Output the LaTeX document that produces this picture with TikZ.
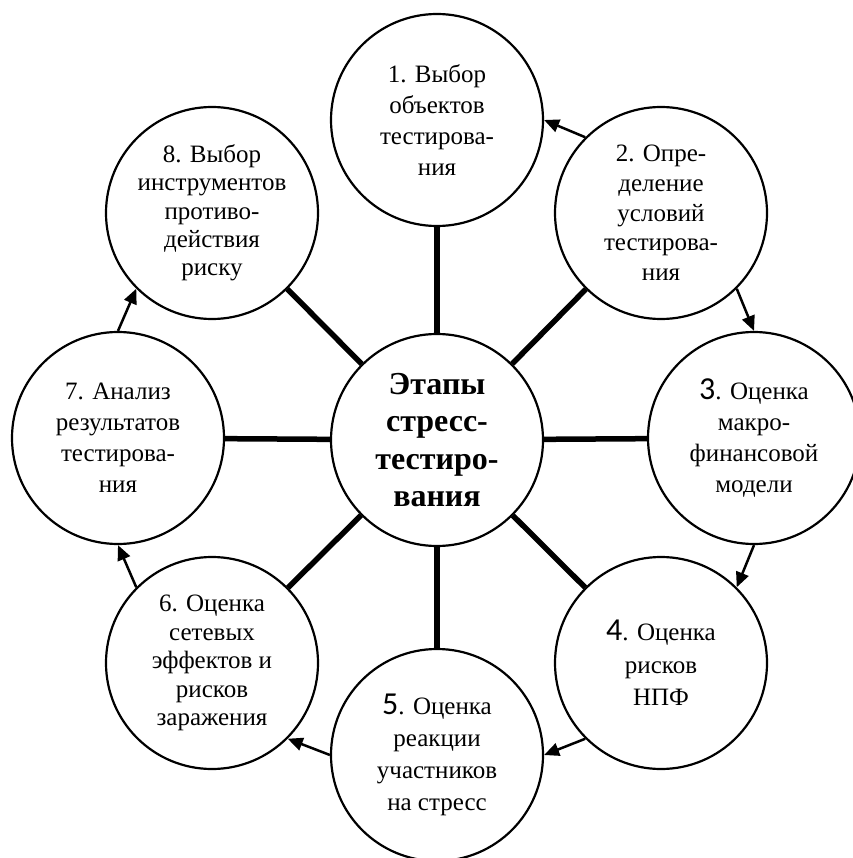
\documentclass[tikz,border=0pt]{standalone}
\usepackage{fontspec}
\setmainfont{Liberation Serif}
\newfontfamily\digitfont{Carlito}
\usetikzlibrary{arrows.meta}
\newcommand\bigdig[1]{{\digitfont\fontsize{32}{32}\selectfont #1}}
\begin{document}
\begin{tikzpicture}[x=1pt,y=-1pt,
  stage/.style={circle, draw, line width=2.2pt, minimum size=212pt, inner sep=0pt, align=center, font=\fontsize{25}{29}\selectfont},
  hub/.style={stage, font=\bfseries\fontsize{32}{37.5}\selectfont},
  spoke/.style={line width=5.5pt},
  flow/.style={line width=2.5pt, -{Triangle[length=15pt,width=13pt]}}
]
\useasboundingbox (0,0) rectangle (852,858);
\node[hub] (c) at (437,440) {Этапы\\стресс-\\тестиро-\\вания};
\node[stage, font=\fontsize{25}{31}\selectfont] (n1) at (437,120) {1. Выбор\\объектов\\тестирова-\\ния};
\node[stage, font=\fontsize{25}{29.7}\selectfont] (n2) at (661,213) {2. Опре-\\деление\\условий\\тестирова-\\ния};
\node[stage, font=\fontsize{25}{31}\selectfont] (n3) at (754,438) {\bigdig{3}. Оценка\\макро-\\финансовой\\модели};
\node[stage, font=\fontsize{25}{32.5}\selectfont] (n4) at (661,663) {\bigdig{4}. Оценка\\рисков\\НПФ};
\node[stage, font=\fontsize{25}{32}\selectfont] (n5) at (437,755) {\bigdig{5}. Оценка\\реакции\\участников\\на стресс};
\node[stage, font=\fontsize{25}{28.5}\selectfont] (n6) at (212,663) {6. Оценка\\сетевых\\эффектов и\\рисков\\заражения};
\node[stage, font=\fontsize{25}{31}\selectfont] (n7) at (118,438) {7. Анализ\\результатов\\тестирова-\\ния};
\node[stage, font=\fontsize{25}{28.3}\selectfont] (n8) at (212,213) {8. Выбор\\инструментов\\противо-\\действия\\риску};
\foreach \n in {n1,n2,n3,n4,n5,n6,n7,n8} \draw[spoke] (c) -- (\n);
\draw[flow] (n2.north west) -- (n1.east);
\draw[flow] (n2.south east) -- (n3.north);
\draw[flow] (n3.south) -- (n4.north east);
\draw[flow] (n4.south west) -- (n5.east);
\draw[flow] (n5.west) -- (n6.south east);
\draw[flow] (n6.north west) -- (n7.south);
\draw[flow] (n7.north) -- (n8.south west);
\end{tikzpicture}
\end{document}
